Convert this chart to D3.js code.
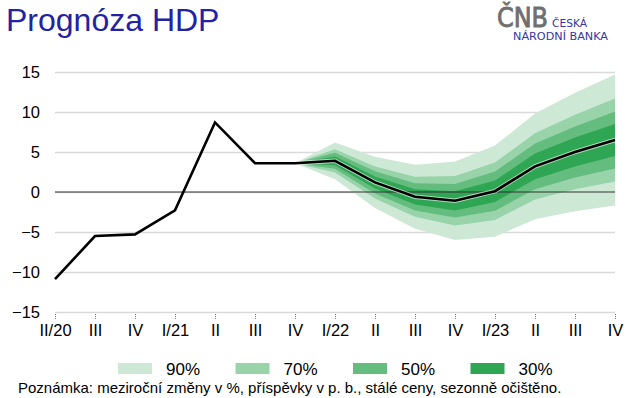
<!DOCTYPE html>
<html>
<head>
<meta charset="utf-8">
<script src="https://cdn.jsdelivr.net/npm/d3@7"></script>
<style>
  body { margin: 0; background: #fff; }
  svg { display: block; font-family: 'Liberation Sans', Arial, sans-serif; }
</style>
</head>
<body>
<svg id="chart" width="633" height="398"></svg>
<script>
// quarters II/20 .. IV/23
var quarters = ['II/20', 'III', 'IV', 'I/21', 'II', 'III', 'IV', 'I/22', 'II', 'III', 'IV', 'I/23', 'II', 'III', 'IV'];
var gdp = [-10.9, -5.5, -5.3, -2.3, 8.7, 3.6, 3.6, 3.9, 1.2, -0.6, -1.1, 0.1, 3.2, 5.0, 6.5];
var yTicks = [-15, -10, -5, 0, 5, 10, 15];

// fan chart starts at IV/21 (index 6)
var fanStart = 6;
var band90Hi = [3.6, 6.2, 4.4, 3.4, 3.8, 5.8, 9.8, 12.4, 14.7];
var band90Lo = [3.6, 1.6, -2.0, -4.6, -6.0, -5.6, -3.4, -2.4, -1.7];
var band70Hi = [3.6, 5.35, 3.2, 1.9, 2.0, 3.7, 7.35, 9.65, 11.7];
var band70Lo = [3.6, 2.45, -0.8, -3.1, -4.2, -3.5, -0.95, 0.35, 1.3];
var band50Hi = [3.6, 4.9, 2.6, 1.1, 1.0, 2.55, 6.05, 8.2, 10.05];
var band50Lo = [3.6, 2.9, -0.2, -2.3, -3.2, -2.35, 0.35, 1.8, 2.95];
var band30Hi = [3.6, 4.45, 1.95, 0.35, 0.1, 1.45, 4.8, 6.8, 8.5];
var band30Lo = [3.6, 3.35, 0.45, -1.55, -2.3, -1.25, 1.6, 3.2, 4.5];

var bandLabels = ['90%', '70%', '50%', '30%'];
var bandColors = ['#cde9d6', '#98d3a9', '#64bd7f', '#2fa654'];

var svg = d3.select('#chart');

var x = d3.scalePoint()
  .domain(d3.range(quarters.length))
  .range([55, 615]);

var y = d3.scaleLinear()
  .domain([-15, 15])
  .range([312, 72]);

// title
svg.append('text')
  .attr('x', 6)
  .attr('y', 31)
  .style('font-size', '32px')
  .style('fill', '#2222a2')
  .text('Prognóza HDP');

// logo
var logo = svg.append('g');
logo.append('text')
  .attr('x', 497)
  .attr('y', 27)
  .attr('textLength', 51)
  .attr('lengthAdjust', 'spacingAndGlyphs')
  .style('font-family', "'Liberation Sans Narrow', 'DejaVu Sans Condensed', sans-serif")
  .style('font-size', '26px')
  .style('fill', '#6f6f6f')
  .style('stroke', '#6f6f6f')
  .style('stroke-width', 0.8)
  .text('ČNB');
logo.append('text')
  .attr('x', 552)
  .attr('y', 27)
  .attr('textLength', 35)
  .attr('lengthAdjust', 'spacingAndGlyphs')
  .style('font-family', "'DejaVu Sans Condensed', 'Liberation Sans Narrow', sans-serif")
  .style('font-size', '11px')
  .style('fill', '#3535a8')
  .text('ČESKÁ');
logo.append('text')
  .attr('x', 513)
  .attr('y', 40)
  .attr('textLength', 95)
  .attr('lengthAdjust', 'spacingAndGlyphs')
  .style('font-family', "'DejaVu Sans Condensed', 'Liberation Sans Narrow', sans-serif")
  .style('font-size', '11px')
  .style('fill', '#3535a8')
  .text('NÁRODNÍ BANKA');

// y axis with grid
var yAxis = svg.append('g')
  .attr('transform', 'translate(55,0)')
  .call(d3.axisLeft(y).tickValues(yTicks).tickSize(-560).tickPadding(15));
yAxis.select('.domain').remove();
yAxis.selectAll('line')
  .attr('stroke', '#d9d9d9')
  .attr('stroke-width', 1.5);
yAxis.selectAll('text')
  .style('font-size', '16.5px')
  .style('fill', '#000')
  .style('font-family', "'Liberation Sans', Arial, sans-serif");

// fan bands
var bands = [
  { hi: band90Hi, lo: band90Lo },
  { hi: band70Hi, lo: band70Lo },
  { hi: band50Hi, lo: band50Lo },
  { hi: band30Hi, lo: band30Lo }
];

var area = d3.area()
  .x(function(d, i) { return x(fanStart + i); })
  .y0(function(d) { return y(d.lo); })
  .y1(function(d) { return y(d.hi); });

svg.append('g')
  .selectAll('path')
  .data(bands)
  .enter()
  .append('path')
  .attr('d', function(b) {
    return area(b.hi.map(function(v, i) { return { hi: v, lo: b.lo[i] }; }));
  })
  .attr('fill', function(d, i) { return bandColors[i]; });

// zero line
svg.append('line')
  .attr('x1', x(0))
  .attr('x2', x(quarters.length - 1))
  .attr('y1', y(0))
  .attr('y2', y(0))
  .attr('stroke', '#333')
  .attr('stroke-width', 1.2);

// gdp line
var line = d3.line()
  .x(function(d, i) { return x(i); })
  .y(function(d) { return y(d); });

var fanLine = d3.line()
  .x(function(d, i) { return x(fanStart + i); })
  .y(function(d) { return y(d); });

svg.append('path')
  .attr('d', fanLine(gdp.slice(fanStart)))
  .attr('fill', 'none')
  .attr('stroke', '#fff')
  .attr('stroke-opacity', 0.6)
  .attr('stroke-width', 4.5);

svg.append('path')
  .attr('d', line(gdp))
  .attr('fill', 'none')
  .attr('stroke', '#000')
  .attr('stroke-width', 2.6)
  .attr('stroke-linejoin', 'miter');

// x axis
var xAxis = svg.append('g')
  .attr('transform', 'translate(0,314)')
  .call(d3.axisBottom(x).tickSize(6).tickPadding(4).tickFormat(function(i) { return quarters[i]; }));
xAxis.select('.domain').remove();
xAxis.selectAll('line')
  .attr('stroke', '#777')
  .attr('stroke-dasharray', '1,1');
xAxis.selectAll('text')
  .style('font-size', '16.5px')
  .style('fill', '#000')
  .style('font-family', "'Liberation Sans', Arial, sans-serif");

// legend
var legend = svg.append('g')
  .selectAll('g')
  .data(bandLabels)
  .enter()
  .append('g')
  .attr('transform', function(d, i) { return 'translate(' + (118 + i * 117.5) + ',363)'; });
legend.append('rect')
  .attr('width', 34)
  .attr('height', 11)
  .attr('fill', function(d, i) { return bandColors[i]; });
legend.append('text')
  .attr('x', 48)
  .attr('y', 12)
  .style('font-size', '17px')
  .text(function(d) { return d; });

// note
svg.append('text')
  .attr('x', 18)
  .attr('y', 393)
  .style('font-size', '15px')
  .text('Poznámka: meziroční změny v %, příspěvky v p. b., stálé ceny, sezonně očištěno.');
</script>
</body>
</html>
